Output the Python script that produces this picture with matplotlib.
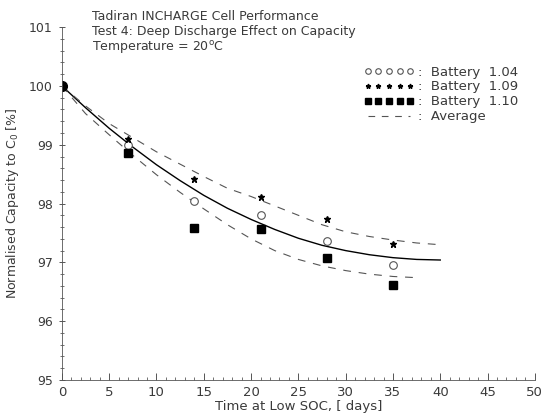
import numpy as np
import matplotlib
matplotlib.use('Agg')
import matplotlib.pyplot as plt
from matplotlib.ticker import MultipleLocator

# measured points
days = [0, 7, 14, 21, 28, 35]
bat_104 = [100.0, 98.99, 98.05, 97.81, 97.36, 96.96]
bat_109 = [100.0, 99.09, 98.42, 98.11, 97.73, 97.32]
bat_110 = [100.0, 98.86, 97.58, 97.57, 97.08, 96.62]

# fitted curves
fit_days = [0, 2.5, 5, 7.5, 10, 12.5, 15, 17.5, 20, 22.5, 25, 27.5, 30, 32.5, 35, 37.5, 40]
fit_avg = [100.0, 99.63, 99.28, 98.96, 98.66, 98.39, 98.14, 97.92, 97.73, 97.56,
           97.41, 97.29, 97.20, 97.13, 97.08, 97.05, 97.04]
fit_109 = [100.0, 99.66, 99.36, 99.12, 98.88, 98.67, 98.46, 98.26, 98.12, 97.96,
           97.80, 97.64, 97.52, 97.44, 97.38, 97.33, 97.30]
fit_110 = [100.0, 99.53, 99.17, 98.82, 98.49, 98.19, 97.91, 97.64, 97.40, 97.20,
           97.05, 96.94, 96.86, 96.80, 96.76, 96.74]

title_lines = ['Tadiran INCHARGE Cell Performance',
               'Test 4: Deep Discharge Effect on Capacity',
               'Temperature = 20$^{\\rm o}$C']

grey = '#3a3a3a'
plt.rcParams['font.family'] = 'DejaVu Sans'
plt.rcParams['font.size'] = 9

fig = plt.figure(figsize=(5.43, 4.18), dpi=100)
ax = fig.add_axes([0.114, 0.091, 0.871, 0.844])

ax.plot(fit_days, fit_avg, '-', color='black', lw=1.0)
ax.plot(fit_days, fit_109, '--', color='#555555', lw=0.8, dashes=(7, 7))
ax.plot(fit_days[:len(fit_110)], fit_110, '--', color='#555555', lw=0.8, dashes=(7, 7))

ax.plot(days[1:], bat_104[1:], 'o', mfc='white', mec='#555555', mew=0.8, ms=5.5)
ax.plot(days[1:], bat_109[1:], '*', color='black', ms=4.5)
ax.plot(days[1:], bat_110[1:], 's', color='black', ms=5.5)
ax.plot(days[0], bat_104[0], 'o', color='black', ms=7)

# legend with five symbols per row
h1, = ax.plot([], [], 'o', mfc='white', mec='#555555', mew=0.8, ms=4)
h2, = ax.plot([], [], '*', color='black', ms=3.5)
h3, = ax.plot([], [], 's', color='black', ms=4.5)
h4, = ax.plot([], [], '--', color='#555555', lw=0.8, dashes=(6, 6))
leg = ax.legend([h1, h2, h3, h4],
                [':  Battery  1.04', ':  Battery  1.09', ':  Battery  1.10', ':  Average'],
                numpoints=5, handlelength=3.8, handletextpad=0.3, labelspacing=0.15,
                frameon=False, loc='upper right', bbox_to_anchor=(0.99, 0.925),
                fontsize=9.5)
for t in leg.get_texts():
    t.set_color(grey)

ax.set_xlim(0, 50)
ax.set_ylim(95, 101)
ax.xaxis.set_major_locator(MultipleLocator(5))
ax.xaxis.set_minor_locator(MultipleLocator(1))
ax.yaxis.set_major_locator(MultipleLocator(1))
ax.yaxis.set_minor_locator(MultipleLocator(0.2))
ax.tick_params(axis='x', which='major', direction='in', length=5, width=0.6,
               colors=grey, labelsize=9.5, pad=4)
ax.tick_params(axis='x', which='minor', direction='in', length=2.5, width=0.5, colors=grey)
ax.tick_params(axis='y', which='major', direction='inout', length=5, width=0.6,
               colors=grey, labelsize=9, pad=4)
ax.tick_params(axis='y', which='minor', direction='inout', length=2.5, width=0.5, colors=grey)

for s in ['top', 'right']:
    ax.spines[s].set_visible(False)
for s in ['left', 'bottom']:
    ax.spines[s].set_color('#555555')
    ax.spines[s].set_linewidth(0.6)

ax.set_xlabel('Time at Low SOC, [ days]', color=grey, fontsize=9.5, labelpad=1)
ax.set_ylabel('Normalised Capacity to C$_0$ [%]', color=grey, fontsize=9, labelpad=6)

for i, line in enumerate(title_lines):
    fig.text(0.17, 0.975 - i * 0.034, line, color=grey, fontsize=9, va='top')

fig.savefig('out.png', dpi=100)
